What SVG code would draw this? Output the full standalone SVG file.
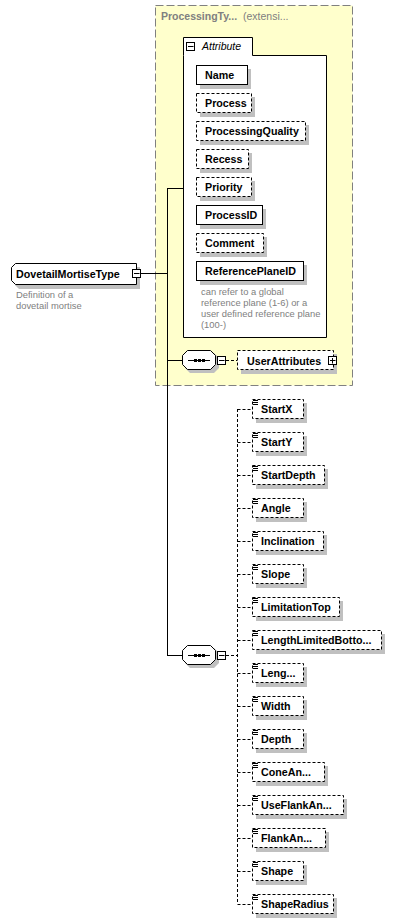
<svg xmlns="http://www.w3.org/2000/svg" width="409" height="924" viewBox="0 0 409 924">
<style>
.bg{fill:#fff}
.box{fill:#fff;stroke:#000;stroke-width:1}
.opt{fill:#fff;stroke:#000;stroke-width:1;stroke-dasharray:3,2}
.sh{fill:#c0c0c0}
.nm{font-family:"Liberation Sans",Arial,sans-serif;font-size:10.7px;font-weight:bold;fill:#000}
.note{font-family:"Liberation Sans",Arial,sans-serif;font-size:9.4px;fill:#808080}
.hdr{font-family:"Liberation Sans",Arial,sans-serif;font-size:10.5px;font-weight:bold;fill:#808080}
.hdr2{font-family:"Liberation Sans",Arial,sans-serif;font-size:10.5px;fill:#808080}
.it{font-family:"Liberation Sans",Arial,sans-serif;font-size:10.5px;font-style:italic;fill:#000}
.ln{fill:none;stroke:#000;stroke-width:1}
.dl{fill:none;stroke:#000;stroke-width:1;stroke-dasharray:3,2}
.btn{fill:#fff;stroke:#000;stroke-width:1}
.ic{stroke:#000;stroke-width:1}
</style>
<defs>
<g id="minus"><rect class="btn" x="0.5" y="0.5" width="8" height="8"/><path class="ic" d="M2,4.5H7.5"/></g>
<g id="plus"><rect class="btn" x="0.5" y="0.5" width="8" height="8"/><path class="ic" d="M2,4.5H7.5M4.5,2V7.5"/></g>
<g id="elic"><path class="ic" d="M0,0.5H5M0,2.5H5M0,4.5H5"/></g>
<g id="oct">
<path class="sh" d="M190,-7H214L219,-2V8L214,13H190L185,8V-2Z"/>
<path class="box" d="M187.5,-9.5H210.5L215.5,-4.5V4.5L210.5,9.5H187.5L182.5,4.5V-4.5Z"/>
<path class="ic" d="M188,0.5H210"/>
<rect x="194" y="-1" width="3" height="3" fill="#000"/>
<rect x="198" y="-1" width="3" height="3" fill="#000"/>
<rect x="202" y="-1" width="3" height="3" fill="#000"/>
</g>
</defs>
<rect x="0" y="0" width="409" height="924" fill="#fff"/>

<g id="extension">
<rect x="155.5" y="5.5" width="197" height="380" fill="#ffffcc" stroke="#808080" stroke-width="1" stroke-dasharray="8,3"/>
<text class="hdr" x="161" y="20">ProcessingTy...</text>
<text class="hdr2" x="243" y="20">(extensi...</text>
</g>

<g id="connectors">
<path class="ln" d="M140,273.5H167.5M167.5,188V655.5M167,188.5H183M167,360.5H182M167,655.5H182"/>
<path class="dl" d="M226,360.5H237M226,655.5H237.5M237.5,409V904"/>
<path class="dl" d="M237.5,409.5H252M237.5,442.5H252M237.5,475.5H252M237.5,508.5H252M237.5,541.5H252M237.5,574.5H252M237.5,607.5H252M237.5,640.5H252M237.5,673.5H252M237.5,706.5H252M237.5,739.5H252M237.5,772.5H252M237.5,805.5H252M237.5,838.5H252M237.5,871.5H252M237.5,904.5H252"/>
</g>

<g id="DovetailMortiseType">
<path class="sh" d="M19,267H140V289H19L15,285V271Z"/>
<path class="box" d="M15.5,263.5H136.5V284.5H15.5L11.5,280.5V267.5Z"/>
<text class="nm" x="16" y="278">DovetailMortiseType</text>
<use href="#minus" x="132" y="269"/>
<text class="note" x="16" y="298">Definition of a</text>
<text class="note" x="16" y="309">dovetail mortise</text>
</g>

<g id="attributes">
<path class="box" d="M183.5,55.5V37.5H252.5V55.5H326.5V337.5H183.5Z"/>
<use href="#minus" x="186" y="42"/>
<text class="it" x="202" y="50">Attribute</text>
</g>

<g id="Name"><rect class="sh" x="200" y="69" width="51" height="20"/><rect class="box" x="196.5" y="65.5" width="51" height="19"/><text class="nm" x="205" y="79">Name</text></g>
<g id="Process"><rect class="sh" x="200" y="97" width="55" height="20"/><rect class="opt" x="196.5" y="93.5" width="55" height="19"/><text class="nm" x="205" y="107">Process</text></g>
<g id="ProcessingQuality"><rect class="sh" x="200" y="125" width="109" height="20"/><rect class="opt" x="196.5" y="121.5" width="109" height="19"/><text class="nm" x="205" y="135">ProcessingQuality</text></g>
<g id="Recess"><rect class="sh" x="200" y="153" width="52" height="20"/><rect class="opt" x="196.5" y="149.5" width="52" height="19"/><text class="nm" x="205" y="163">Recess</text></g>
<g id="Priority"><rect class="sh" x="200" y="181" width="55" height="20"/><rect class="opt" x="196.5" y="177.5" width="55" height="19"/><text class="nm" x="205" y="191">Priority</text></g>
<g id="ProcessID"><rect class="sh" x="200" y="209" width="66" height="20"/><rect class="box" x="196.5" y="205.5" width="66" height="19"/><text class="nm" x="205" y="219">ProcessID</text></g>
<g id="Comment"><rect class="sh" x="200" y="237" width="67" height="20"/><rect class="opt" x="196.5" y="233.5" width="67" height="19"/><text class="nm" x="205" y="247">Comment</text></g>
<g id="ReferencePlaneID"><rect class="sh" x="200" y="265" width="107" height="20"/><rect class="box" x="196.5" y="261.5" width="107" height="19"/><text class="nm" x="205" y="275">ReferencePlaneID</text>
<text class="note" x="201" y="295">can refer to a global</text>
<text class="note" x="201" y="306">reference plane (1-6) or a</text>
<text class="note" x="201" y="317">user defined reference plane</text>
<text class="note" x="201" y="328">(100-)</text></g>

<g id="sequence1"><use href="#oct" x="0" y="360"/><use href="#minus" x="217" y="356"/></g>
<g id="UserAttributes"><rect class="sh" x="241" y="354" width="96" height="20"/><rect class="opt" x="237.5" y="350.5" width="96" height="19"/><text class="nm" x="247" y="365">UserAttributes</text><use href="#plus" x="328" y="356"/></g>

<g id="sequence2"><use href="#oct" x="0" y="655"/><use href="#minus" x="217" y="651"/></g>

<g id="StartX"><rect class="sh" x="256" y="403" width="51" height="20"/><rect class="opt" x="252.5" y="399.5" width="51" height="19"/><use href="#elic" x="253" y="400"/><text class="nm" x="261" y="413">StartX</text></g>
<g id="StartY"><rect class="sh" x="256" y="436" width="51" height="20"/><rect class="opt" x="252.5" y="432.5" width="51" height="19"/><use href="#elic" x="253" y="433"/><text class="nm" x="261" y="446">StartY</text></g>
<g id="StartDepth"><rect class="sh" x="256" y="469" width="72" height="20"/><rect class="opt" x="252.5" y="465.5" width="72" height="19"/><use href="#elic" x="253" y="466"/><text class="nm" x="261" y="479">StartDepth</text></g>
<g id="Angle"><rect class="sh" x="256" y="502" width="51" height="20"/><rect class="opt" x="252.5" y="498.5" width="51" height="19"/><use href="#elic" x="253" y="499"/><text class="nm" x="261" y="512">Angle</text></g>
<g id="Inclination"><rect class="sh" x="256" y="535" width="71" height="20"/><rect class="opt" x="252.5" y="531.5" width="71" height="19"/><use href="#elic" x="253" y="532"/><text class="nm" x="261" y="545">Inclination</text></g>
<g id="Slope"><rect class="sh" x="256" y="568" width="51" height="20"/><rect class="opt" x="252.5" y="564.5" width="51" height="19"/><use href="#elic" x="253" y="565"/><text class="nm" x="261" y="578">Slope</text></g>
<g id="LimitationTop"><rect class="sh" x="256" y="601" width="87" height="20"/><rect class="opt" x="252.5" y="597.5" width="87" height="19"/><use href="#elic" x="253" y="598"/><text class="nm" x="261" y="611">LimitationTop</text></g>
<g id="LengthLimitedBottom"><rect class="sh" x="256" y="634" width="129" height="20"/><rect class="opt" x="252.5" y="630.5" width="129" height="19"/><use href="#elic" x="253" y="631"/><text class="nm" x="261" y="644">LengthLimitedBotto...</text></g>
<g id="Length"><rect class="sh" x="256" y="667" width="51" height="20"/><rect class="opt" x="252.5" y="663.5" width="51" height="19"/><use href="#elic" x="253" y="664"/><text class="nm" x="261" y="677">Leng...</text></g>
<g id="Width"><rect class="sh" x="256" y="700" width="51" height="20"/><rect class="opt" x="252.5" y="696.5" width="51" height="19"/><use href="#elic" x="253" y="697"/><text class="nm" x="261" y="710">Width</text></g>
<g id="Depth"><rect class="sh" x="256" y="733" width="51" height="20"/><rect class="opt" x="252.5" y="729.5" width="51" height="19"/><use href="#elic" x="253" y="730"/><text class="nm" x="261" y="743">Depth</text></g>
<g id="ConeAngle"><rect class="sh" x="256" y="766" width="72" height="20"/><rect class="opt" x="252.5" y="762.5" width="72" height="19"/><use href="#elic" x="253" y="763"/><text class="nm" x="261" y="776">ConeAn...</text></g>
<g id="UseFlankAngle"><rect class="sh" x="256" y="799" width="91" height="20"/><rect class="opt" x="252.5" y="795.5" width="91" height="19"/><use href="#elic" x="253" y="796"/><text class="nm" x="261" y="809">UseFlankAn...</text></g>
<g id="FlankAngle"><rect class="sh" x="256" y="832" width="73" height="20"/><rect class="opt" x="252.5" y="828.5" width="73" height="19"/><use href="#elic" x="253" y="829"/><text class="nm" x="261" y="842">FlankAn...</text></g>
<g id="Shape"><rect class="sh" x="256" y="865" width="51" height="20"/><rect class="opt" x="252.5" y="861.5" width="51" height="19"/><use href="#elic" x="253" y="862"/><text class="nm" x="261" y="875">Shape</text></g>
<g id="ShapeRadius"><rect class="sh" x="256" y="898" width="81" height="20"/><rect class="opt" x="252.5" y="894.5" width="81" height="19"/><use href="#elic" x="253" y="895"/><text class="nm" x="261" y="908">ShapeRadius</text></g>
</svg>
